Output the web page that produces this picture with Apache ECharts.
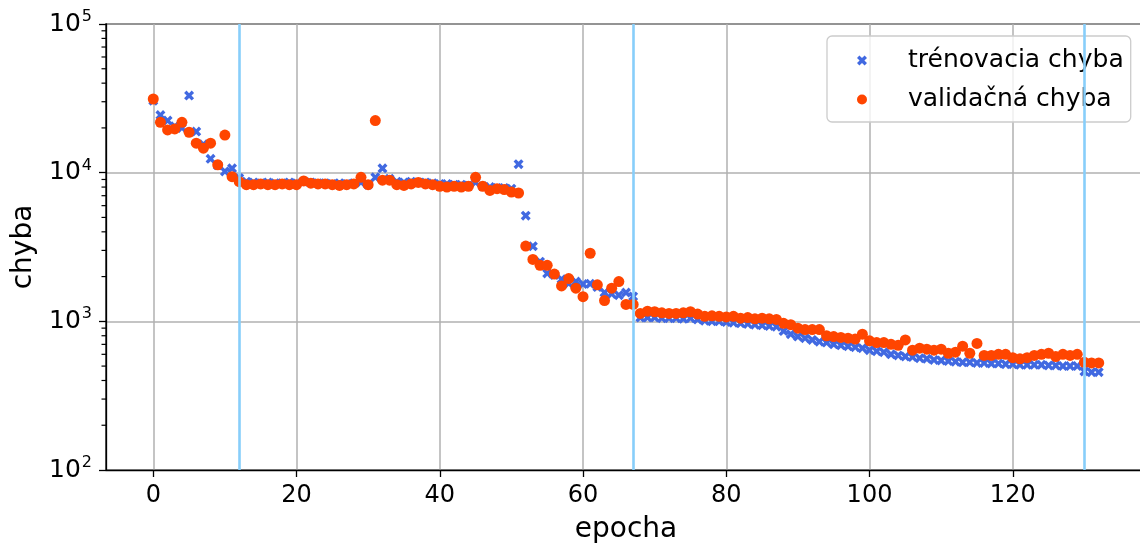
<!DOCTYPE html>
<html><head><meta charset="utf-8">
<script src="https://cdn.jsdelivr.net/npm/echarts@6/dist/echarts.min.js"></script>
<style>html,body{margin:0;padding:0;background:#fff}#c{width:1140px;height:545px}</style>
</head><body><div id="c"></div>
<script>
const epochs = Array.from({length: 133}, (_, i) => i);
const trainErr = [
30500,24400,22400,20500,20000,33000,18900,15500,12400,11200,
10200,10700,9200,8700,8600,8500,8600,8500,8500,8600,
8500,8700,8600,8500,8500,8400,8500,8400,8500,8600,
8300,9300,10700,9100,8700,8600,8700,8600,8600,8500,
8400,8400,8300,8300,8200,8600,8100,8000,7900,7900,
7800,11400,5140,3200,2520,2100,2050,1920,1800,1850,
1780,1790,1700,1560,1530,1500,1560,1470,1060,1060,
1060,1050,1050,1050,1040,1050,1030,1010,1000,1000,
990,980,970,960,950,940,930,920,860,820,
790,770,750,730,720,700,690,680,670,660,
640,630,620,600,590,580,575,565,560,550,
545,540,535,530,530,525,525,520,520,515,
515,510,510,510,510,505,505,500,500,500,
460,455,455];
const valErr = [
31300,21800,19400,19700,21800,18700,15800,14600,15800,11300,
17900,9400,8700,8300,8300,8400,8300,8300,8400,8300,
8300,8800,8500,8400,8400,8300,8200,8300,8400,9300,
8300,22400,8900,8900,8300,8200,8400,8600,8400,8300,
8100,8000,8100,8000,8100,9300,8100,7600,7800,7700,
7400,7300,3210,2610,2380,2380,2080,1730,1940,1670,
1465,2870,1760,1380,1670,1850,1300,1300,1130,1170,
1160,1140,1130,1130,1140,1160,1120,1080,1090,1080,
1070,1080,1050,1060,1040,1050,1040,1030,970,950,
900,880,880,880,800,790,780,770,760,820,
740,720,720,700,690,750,640,660,650,640,
650,610,620,680,610,710,590,590,600,600,
570,560,570,590,600,610,580,600,590,600,
530,525,525];
const stageLines = [12, 67, 130];
const xTicks = [0, 20, 40, 60, 80, 100, 120];
const seriesNames = ['trénovacia chyba', 'validačná chyba'];

const X_MIN = -6.6, X_MAX = 138.6;
const minorVals = [];
for (let d = 2; d < 5; d++) for (let m = 2; m <= 9; m++) minorVals.push([X_MIN, m * Math.pow(10, d)]);

const FONT = 'DejaVu Sans';
const xPath = 'path://M0,2.4 L2.4,0 L5,2.6 L7.6,0 L10,2.4 L7.4,5 L10,7.6 L7.6,10 L5,7.4 L2.4,10 L0,7.6 L2.6,5 Z';

const chart = echarts.init(document.getElementById('c'), null, {renderer: 'canvas'});
chart.setOption({
  animation: false,
  textStyle: {fontFamily: FONT},
  grid: {left: 106, width: 1040, top: 24, height: 446, outerBoundsMode: 'none', containLabel: false,
         show: true, borderColor: '#000', borderWidth: 1.3, backgroundColor: 'transparent'},
  legend: {
    orient: 'vertical', left: 827, top: 36,
    padding: [12, 7, 10, 30],
    itemWidth: 10, itemHeight: 10, itemGap: 14,
    data: seriesNames,
    textStyle: {fontSize: 25, color: '#000', fontFamily: FONT, padding: [0, 0, 0, 36]},
    backgroundColor: 'rgba(255,255,255,0.8)', borderColor: '#cccccc', borderWidth: 1.3, borderRadius: 5
  },
  xAxis: {
    type: 'value', min: X_MIN, max: X_MAX, splitNumber: 7,
    name: 'epocha', nameLocation: 'middle', nameGap: 46,
    nameTextStyle: {fontSize: 28, color: '#000', fontFamily: FONT},
    axisLine: {show: true, onZero: false, lineStyle: {color: '#000', width: 1.3}},
    axisTick: {show: true, length: 7, lineStyle: {color: '#000', width: 1.3}, customValues: xTicks},
    axisLabel: {fontSize: 24, color: '#000', margin: 14, fontFamily: FONT, customValues: xTicks},
    splitLine: {show: true, lineStyle: {color: '#b0b0b0', width: 1.5}}
  },
  yAxis: {
    type: 'log', logBase: 10, min: 100, max: 100000,
    name: 'chyba', nameLocation: 'middle', nameGap: 68, nameRotate: 90,
    nameTextStyle: {fontSize: 28, color: '#000', fontFamily: FONT},
    axisLine: {show: true, onZero: false, lineStyle: {color: '#000', width: 1.3}},
    axisTick: {show: true, length: 7, lineStyle: {color: '#000', width: 1.3}},
    axisLabel: {
      margin: 14, fontFamily: FONT,
      formatter: v => '{b|10}{s|' + Math.round(Math.log10(v)) + '}',
      rich: {
        b: {fontSize: 25, color: '#000', fontFamily: FONT},
        s: {fontSize: 16, color: '#000', fontFamily: FONT, padding: [0, 0, 14, 1]}
      }
    },
    splitLine: {show: true, lineStyle: {color: '#b0b0b0', width: 1.5}}
  },
  series: [
    {
      type: 'line', data: [], z: 1, silent: true,
      markLine: {
        silent: true, symbol: ['none', 'none'], label: {show: false},
        lineStyle: {color: '#87CEFA', width: 2.6, type: 'solid'},
        data: stageLines.map(v => ({xAxis: v}))
      }
    },
    {
      type: 'custom', silent: true, z: 5, clip: false,
      encode: {x: 0, y: 1},
      data: minorVals,
      renderItem: (params, api) => {
        const p = api.coord([api.value(0), api.value(1)]);
        return {type: 'line', z2: 10, shape: {x1: p[0] - 4.5, y1: p[1], x2: p[0], y2: p[1]},
                style: {stroke: '#000', lineWidth: 1.2, fill: null}};
      }
    },
    {
      name: seriesNames[0], type: 'scatter', z: 3,
      symbol: xPath, symbolSize: 10,
      itemStyle: {color: '#4169E1', opacity: 1},
      data: epochs.map(i => [i, trainErr[i]])
    },
    {
      name: seriesNames[1], type: 'scatter', z: 4,
      symbol: 'circle', symbolSize: 11,
      itemStyle: {color: '#FF4500', opacity: 1},
      data: epochs.map(i => [i, valErr[i]])
    }
  ]
});
</script></body></html>
